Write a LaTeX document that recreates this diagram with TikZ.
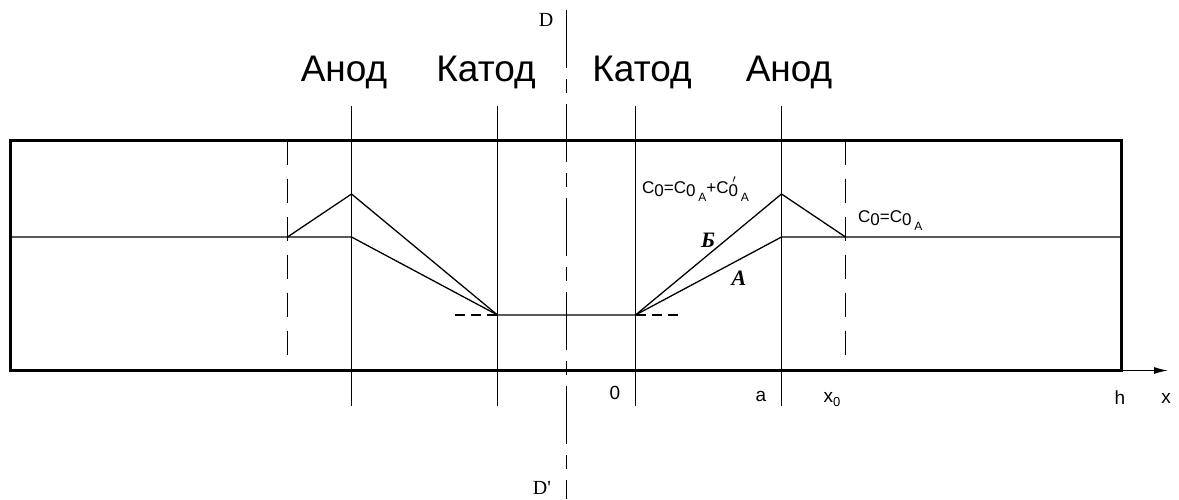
\documentclass[tikz,border=0pt]{standalone}
\usepackage{fontspec}
\setmainfont{Liberation Sans}
\newfontfamily\serifrm{Liberation Serif}
\usetikzlibrary{arrows.meta}
\begin{document}
\begin{tikzpicture}[x=1pt,y=-1pt,
  thin line/.style={line width=1.3pt,black},
  thick line/.style={line width=3pt,black},
  dashline/.style={line width=1.3pt,dash pattern=on 24pt off 14pt},
  shortdash/.style={line width=1.3pt,dash pattern=on 10pt off 6pt},
  axisdash/.style={line width=1.3pt,dash pattern=on 58pt off 11pt on 14pt off 11pt},
  bigtext/.style={font=\fontsize{37}{39}\selectfont,anchor=base,inner sep=0pt},
  smalltext/.style={font=\fontsize{17}{19}\selectfont,inner sep=0pt},
  axtext/.style={font=\fontsize{19}{21}\selectfont,inner sep=0pt},
  curvelabel/.style={font=\serifrm\bfseries\itshape\fontsize{22}{24}\selectfont,inner sep=0pt}]
\useasboundingbox (0,0) rectangle (1179,499);
% main coordinates
\coordinate (TL) at (10.5,140.5);
\coordinate (BR) at (1121,370.5);
\coordinate (xend) at (1168,370.5);
% vertical lines
\coordinate (aLt) at (351.5,106); \coordinate (aLb) at (351.5,406);
\coordinate (kLt) at (497.5,106); \coordinate (kLb) at (497.5,406);
\coordinate (kRt) at (635.5,106); \coordinate (kRb) at (635.5,406);
\coordinate (aRt) at (781.5,106); \coordinate (aRb) at (781.5,406);
\coordinate (dLt) at (287.5,140.5); \coordinate (dLb) at (287.5,370.5);
\coordinate (dRt) at (845.5,140.5); \coordinate (dRb) at (845.5,370.5);
\coordinate (Dt) at (566.5,10); \coordinate (Db) at (566.5,499);
% profile points
\coordinate (mL) at (10.5,237); \coordinate (mR) at (1121,237);
\coordinate (pLa) at (351.5,237); \coordinate (pRa) at (781.5,237);
\coordinate (pLb) at (351.5,194); \coordinate (pRb) at (781.5,194);
\coordinate (eL) at (287.5,237); \coordinate (eR) at (845.5,237);
\coordinate (cL) at (497.5,315); \coordinate (cR) at (635.5,315);
\coordinate (cLd) at (455,315); \coordinate (cRd) at (678,315);

% rectangle and axis
\draw[thick line] (TL) rectangle (BR);
\draw[line width=1.3pt,-{Latex[length=14pt,width=7pt]}] (BR) -- (xend);

% vertical lines
\foreach \a/\b in {aLt/aLb,kLt/kLb,kRt/kRb,aRt/aRb}
  \draw[thin line] (\a) -- (\b);
\draw[dashline] (dLt) -- (dLb);
\draw[dashline] (dRt) -- (dRb);
\draw[axisdash] (Dt) -- (Db);

% profiles
\draw[thin line] (mL) -- (pLa) -- (cL) -- (cR) -- (pRa) -- (mR);
\draw[thin line] (eL) -- (pLb) -- (cL);
\draw[thin line] (cR) -- (pRb) -- (eR);
\draw[shortdash] (cLd) -- (cL);
\draw[shortdash] (cR) -- (cRd);

% labels
\node[bigtext] (anodL) at (344,81) {Анод};
\node[bigtext] (katL) at (486,81) {Катод};
\node[bigtext] (katR) at (642,81) {Катод};
\node[bigtext] (anodR) at (789,81) {Анод};
\node[font=\serifrm\fontsize{20}{22}\selectfont,inner sep=0pt] (Dlab) at (546,20) {D};
\node[font=\serifrm\fontsize{20}{22}\selectfont,inner sep=0pt] (Dplab) at (542,488) {D'};
\node[smalltext,anchor=base west] (c1) at (642,193) {C\raisebox{-3pt}{0}=C\raisebox{-3pt}{0}\,\raisebox{-8pt}{\fontsize{12}{12}\selectfont A}+C\raisebox{-3pt}{0}\llap{\raisebox{3pt}{$'$}\hspace{2pt}}\,\raisebox{-8pt}{\fontsize{12}{12}\selectfont A}};
\node[smalltext,anchor=base west] (c2) at (858,222) {C\raisebox{-3pt}{0}=C\raisebox{-3pt}{0}\,\raisebox{-8pt}{\fontsize{12}{12}\selectfont A}};
\node[curvelabel] (Blab) at (708,240) {Б};
\node[curvelabel] (Alab) at (739,278) {A};
\node[axtext] (zero) at (615,393) {0};
\node[axtext] (alab) at (761,396) {a};
\node[axtext] (x0lab) at (832,400) {x\raisebox{-4pt}{\fontsize{13}{13}\selectfont 0}};
\node[axtext] (hlab) at (1120,398) {h};
\node[axtext] (xlab) at (1166,398) {x};
\end{tikzpicture}
\end{document}
